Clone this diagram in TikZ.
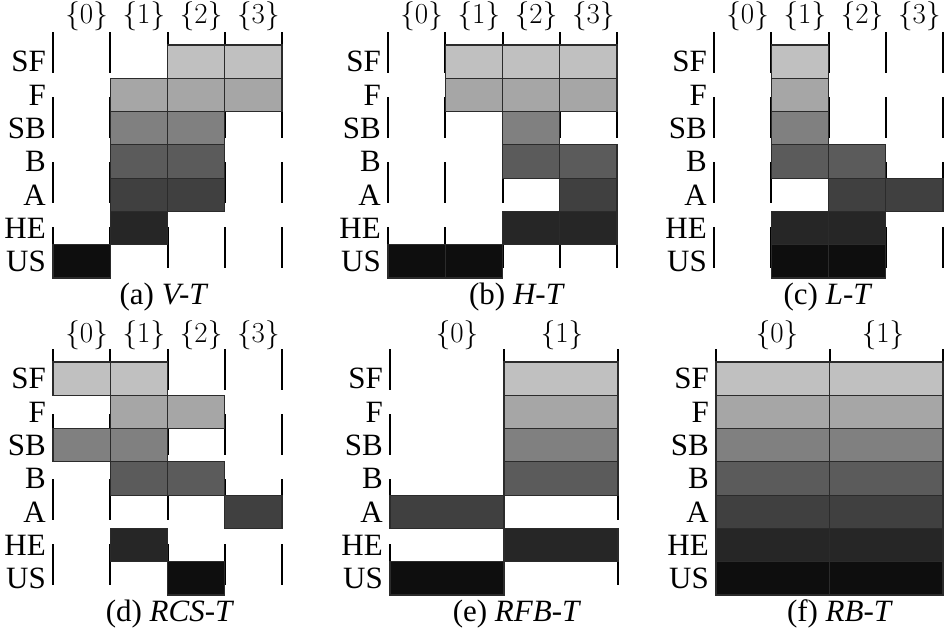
\documentclass[tikz,border=0pt]{standalone}
\usepackage{fontspec}
\setmainfont{Liberation Serif}
\newfontfamily\lmfont{Latin Modern Roman}
\definecolor{r0}{HTML}{C0C0C0}
\definecolor{r1}{HTML}{A6A6A6}
\definecolor{r2}{HTML}{808080}
\definecolor{r3}{HTML}{5B5B5B}
\definecolor{r4}{HTML}{404040}
\definecolor{r5}{HTML}{262626}
\definecolor{r6}{HTML}{0E0E0E}
\definecolor{bordercol}{HTML}{2B2B2B}
\tikzset{
  gridline/.style={line width=2pt, dash pattern=on 41pt off 24pt},
  cellbox/.style={draw=bordercol, line width=1.2pt},
  rowlab/.style={anchor=east, inner sep=0pt, font=\fontsize{31}{32}\selectfont},
  colhead/.style={inner sep=0pt, font=\lmfont\fontsize{29}{30}\selectfont},
  caption/.style={inner sep=0pt, font=\fontsize{31}{32}\selectfont}
}
\newcommand\drawpanel[6]{%
  \foreach \c in {0,...,#5}
    \draw[gridline] (#2+\c*#4, #3-13) -- (#2+\c*#4, #3+233);
  \foreach \c/\r in {#6}
    \filldraw[cellbox, fill=r\r] (#2+\c*#4, #3+\r*33.29) rectangle ++(#4, 33.29);
  \foreach \lab [count=\i from 0] in {SF,F,SB,B,A,HE,US}
    \node[rowlab] (#1-\lab) at (#2-7, #3+\i*33.29+16.64) {\lab};
}
\begin{document}
\begin{tikzpicture}[x=1pt,y=-1pt]
\useasboundingbox (0,0) rectangle (946,638);
% (a)
\drawpanel{a}{53}{45}{57.25}{4}{2/0,3/0,1/1,2/1,3/1,1/2,2/2,1/3,2/3,1/4,2/4,1/5,0/6}
\foreach \k in {0,...,3}
  \node[colhead] (a-h\k) at (53+\k*57.25+28.6+5, 16) {\{\k\}};
\node[caption] (a-cap) at (164,297) {(a) \textit{V-T}};
% (b)
\drawpanel{b}{388}{45}{57.25}{4}{1/0,2/0,3/0,1/1,2/1,3/1,2/2,2/3,3/3,3/4,2/5,3/5,0/6,1/6}
\foreach \k in {0,...,3}
  \node[colhead] (b-h\k) at (388+\k*57.25+28.6+5, 16) {\{\k\}};
\node[caption] (b-cap) at (517,297) {(b) \textit{H-T}};
% (c)
\drawpanel{c}{714}{45}{57.25}{4}{1/0,1/1,1/2,1/3,2/3,2/4,3/4,1/5,2/5,1/6,2/6}
\foreach \k in {0,...,3}
  \node[colhead] (c-h\k) at (714+\k*57.25+28.6+5, 16) {\{\k\}};
\node[caption] (c-cap) at (828,297) {(c) \textit{L-T}};
% (d)
\drawpanel{d}{53}{362}{57.25}{4}{0/0,1/0,1/1,2/1,0/2,1/2,1/3,2/3,3/4,1/5,2/6}
\foreach \k in {0,...,3}
  \node[colhead] (d-h\k) at (53+\k*57.25+28.6+5, 335) {\{\k\}};
\node[caption] (d-cap) at (170,614) {(d) \textit{RCS-T}};
% (e)
\drawpanel{e}{390}{362}{114}{2}{1/0,1/1,1/2,1/3,0/4,1/5,0/6}
\node[colhead] (e-h0) at (457,335) {\{0\}};
\node[colhead] (e-h1) at (562,335) {\{1\}};
\node[caption] (e-cap) at (517,614) {(e) \textit{RFB-T}};
% (f)
\drawpanel{f}{716}{362}{113.5}{2}{0/0,1/0,0/1,1/1,0/2,1/2,0/3,1/3,0/4,1/4,0/5,1/5,0/6,1/6}
\node[colhead] (f-h0) at (777,335) {\{0\}};
\node[colhead] (f-h1) at (883,335) {\{1\}};
\node[caption] (f-cap) at (840,614) {(f) \textit{RB-T}};
\end{tikzpicture}
\end{document}
